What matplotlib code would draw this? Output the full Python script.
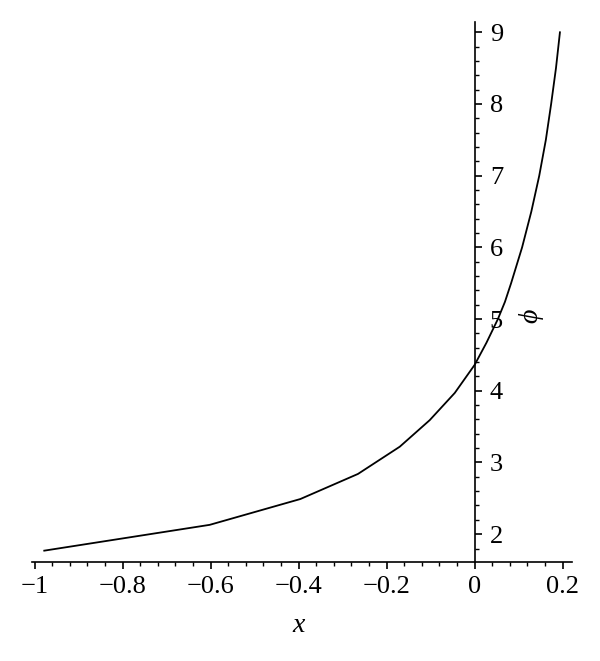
import matplotlib
matplotlib.use("Agg")
import matplotlib.pyplot as plt
from matplotlib.ticker import MultipleLocator, FuncFormatter

x_vals = [-0.978, -0.602, -0.396, -0.265, -0.170, -0.102, -0.045, 0.0, 0.027, 0.053, 0.069, 0.083, 0.108, 0.129, 0.147, 0.162, 0.174, 0.185, 0.194]
phi_vals = [1.77, 2.13, 2.49, 2.84, 3.22, 3.59, 3.97, 4.36, 4.67, 5.0, 5.24, 5.5, 6.0, 6.5, 7.0, 7.5, 8.0, 8.5, 9.0]
x_ticks = [-1, -0.8, -0.6, -0.4, -0.2, 0, 0.2]
y_ticks = [2, 3, 4, 5, 6, 7, 8, 9]

plt.rcParams['font.family'] = ['Liberation Serif', 'DejaVu Serif']
fig = plt.figure(figsize=(6, 6.61), dpi=100)
ax = fig.add_axes([0.0525, 0.1498, 0.9003, 0.8174])
ax.plot(x_vals, phi_vals, color='black', lw=1.3)
ax.set_xlim(-1.007, 0.2207)
ax.set_ylim(1.612, 9.148)

for s in ['top', 'left']:
    ax.spines[s].set_visible(False)
ax.spines['right'].set_position(('data', 0))
ax.spines['right'].set_linewidth(1.2)
ax.spines['bottom'].set_linewidth(1.2)
ax.yaxis.tick_right()
ax.set_xticks(x_ticks)
ax.set_yticks(y_ticks)
ax.xaxis.set_minor_locator(MultipleLocator(0.04))
ax.yaxis.set_minor_locator(MultipleLocator(0.2))
fmt = lambda v, p: ('0' if abs(v) < 1e-9 else ('%g' % v).replace('-', '\u2212'))
ax.xaxis.set_major_formatter(FuncFormatter(fmt))
ax.yaxis.set_major_formatter(FuncFormatter(fmt))
ax.tick_params(axis='both', which='major', length=5, width=1.2, labelsize=19, direction='out')
ax.tick_params(axis='both', which='minor', length=3, width=1.0, direction='out')
ax.tick_params(axis='x', which='major', pad=5)
ax.tick_params(axis='y', which='major', pad=6)

ax.set_xlabel('x', fontsize=20, style='italic')
ax.xaxis.set_label_coords((-0.4 + 1.007) / (0.2207 + 1.007), -0.095)
ax.text(0.128, 5.04, '\u03d5', fontsize=20, style='italic', rotation=90, ha='center', va='center')

fig.savefig('out.png', dpi=100)
